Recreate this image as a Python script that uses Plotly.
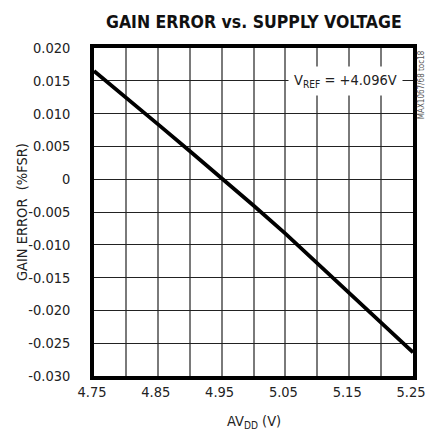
import plotly.graph_objects as go

# Data
avdd = [4.75, 4.80, 4.85, 4.90, 4.95, 5.00, 5.05, 5.10, 5.15, 5.20, 5.25]
gain_error = [0.0165, 0.0125, 0.0084, 0.0043, 0.0002, -0.0040, -0.0083, -0.0128, -0.0173, -0.0218, -0.0264]

x_tickvals = [4.75, 4.80, 4.85, 4.90, 4.95, 5.00, 5.05, 5.10, 5.15, 5.20, 5.25]
x_ticktext = ["4.75", "", "4.85", "", "4.95", "", "5.05", "", "5.15", "", "5.25"]
y_tickvals = [0.020, 0.015, 0.010, 0.005, 0.0, -0.005, -0.010, -0.015, -0.020, -0.025, -0.030]
y_ticktext = ["0.020", "0.015", "0.010", "0.005", "0", "-0.005", "-0.010", "-0.015", "-0.020", "-0.025", "-0.030"]

FONT = "DejaVu Sans Condensed"
W, H = 438, 443
L, R, T, B = 94, 16, 48, 67

fig = go.Figure()

fig.add_trace(go.Scatter(
    x=avdd, y=gain_error, mode="lines",
    line=dict(color="black", width=3.8),
    hoverinfo="skip", showlegend=False,
))

fig.update_layout(
    width=W, height=H,
    margin=dict(l=L, r=R, t=T, b=B),
    paper_bgcolor="white", plot_bgcolor="white",
    font=dict(family=FONT, size=14, color="#222"),
    showlegend=False,
)

fig.update_xaxes(
    range=[4.75, 5.25],
    tickmode="array", tickvals=x_tickvals, ticktext=x_ticktext,
    showgrid=True, gridcolor="#7a7a7a", gridwidth=1.5,
    showline=True, linecolor="black", linewidth=3.5, mirror=True,
    ticks="", ticklabeloverflow="allow", ticklabelshift=-2,
    tickfont=dict(family=FONT, size=14.5, color="#222"),
    zeroline=False, fixedrange=True,
)
fig.update_yaxes(
    range=[-0.030, 0.020],
    tickmode="array", tickvals=y_tickvals, ticktext=y_ticktext,
    showgrid=True, gridcolor="#222", gridwidth=1.2,
    showline=True, linecolor="black", linewidth=3.5, mirror=True,
    ticks="outside", ticklen=17, tickcolor="rgba(0,0,0,0)",
    tickfont=dict(family=FONT, size=14.5, color="#222"),
    zeroline=False, fixedrange=True,
)

pw = W - L - R
ph = H - T - B

def px_x(px):
    return (px - L) / pw

def px_y(py):
    return (H - B - py) / ph

annotations = [
    dict(text="<b>GAIN ERROR vs. SUPPLY VOLTAGE</b>", xref="paper", yref="paper",
         x=0.5, y=px_y(22), xanchor="center", yanchor="middle", showarrow=False,
         font=dict(family=FONT, size=17.5, color="#111")),
    dict(text="GAIN ERROR  (%FSR)", xref="paper", yref="paper",
         x=px_x(20), y=0.5, xanchor="center", yanchor="middle", showarrow=False,
         textangle=-90, font=dict(family=FONT, size=14.5, color="#222")),
    dict(text="AV<sub>DD</sub> (V)", xref="paper", yref="paper",
         x=0.5, y=px_y(422), xanchor="center", yanchor="middle", showarrow=False,
         font=dict(family=FONT, size=14.5, color="#222")),
    dict(text="V<sub>REF</sub> = +4.096V", xref="paper", yref="y",
         x=px_x(412), y=0.015, xanchor="right", yanchor="middle", showarrow=False,
         bgcolor="white", borderpad=5,
         font=dict(family=FONT, size=14.5, color="#222")),
    dict(text="MAX1067/68 toc18", xref="paper", yref="paper",
         x=px_x(431), y=1.0, xanchor="center", yanchor="top", showarrow=False,
         textangle=-90, font=dict(family=FONT, size=8, color="#555")),
]
fig.update_layout(annotations=annotations)

fig.write_html("out.html", config={"displayModeBar": False},
               post_script="document.body.style.margin='0';")
